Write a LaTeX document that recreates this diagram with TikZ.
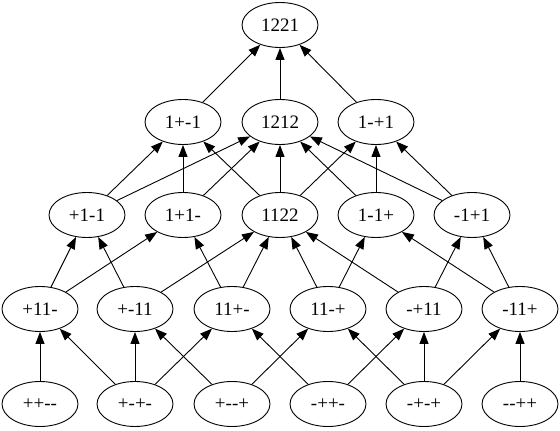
\documentclass[tikz,border=0pt]{standalone}
\usepackage{fontspec}
\newfontfamily\labfont{Liberation Serif}
\usetikzlibrary{shapes.geometric,arrows.meta}
\begin{document}
\begin{tikzpicture}[x=1pt,y=-1pt,
  vtx/.style={draw,ellipse,line width=0.9pt,minimum width=76pt,minimum height=45pt,inner sep=0pt,font=\labfont\fontsize{19}{22}\selectfont},
  edge/.style={line width=0.9pt,-{Triangle[length=12pt,width=9pt]}}]
\useasboundingbox (0,0) rectangle (560,431);
% row 1
\node[vtx] (a) at (280,25) {1221};
% row 2
\node[vtx] (b1) at (183,122) {1+-1};
\node[vtx] (b2) at (280,122) {1212};
\node[vtx] (b3) at (376,122) {1-+1};
% row 3
\node[vtx] (c1) at (87,215) {+1-1};
\node[vtx] (c2) at (183,215) {1+1-};
\node[vtx] (c3) at (280,215) {1122};
\node[vtx] (c4) at (376,215) {1-1+};
\node[vtx] (c5) at (472,215) {-1+1};
% row 4
\node[vtx] (d1) at (40,309) {+11-};
\node[vtx] (d2) at (135,309) {+-11};
\node[vtx] (d3) at (232,309) {11+-};
\node[vtx] (d4) at (328,309) {11-+};
\node[vtx] (d5) at (424,309) {-+11};
\node[vtx] (d6) at (520,309) {-11+};
% row 5
\node[vtx] (e1) at (40,404) {++--};
\node[vtx] (e2) at (135,404) {+-+-};
\node[vtx] (e3) at (232,404) {+--+};
\node[vtx] (e4) at (328,404) {-++-};
\node[vtx] (e5) at (424,404) {-+-+};
\node[vtx] (e6) at (520,404) {--++};
% row 5 -> row 4
\draw[edge] (e1) -- (d1);
\draw[edge] (e2) -- (d1);
\draw[edge] (e2) -- (d2);
\draw[edge] (e2) -- (d3);
\draw[edge] (e3) -- (d2);
\draw[edge] (e3) -- (d4);
\draw[edge] (e4) -- (d3);
\draw[edge] (e4) -- (d5);
\draw[edge] (e5) -- (d4);
\draw[edge] (e5) -- (d5);
\draw[edge] (e5) -- (d6);
\draw[edge] (e6) -- (d6);
% row 4 -> row 3
\draw[edge] (d1) -- (c1);
\draw[edge] (d1) -- (c2);
\draw[edge] (d2) -- (c1);
\draw[edge] (d2) -- (c3);
\draw[edge] (d3) -- (c2);
\draw[edge] (d3) -- (c3);
\draw[edge] (d4) -- (c3);
\draw[edge] (d4) -- (c4);
\draw[edge] (d5) -- (c3);
\draw[edge] (d5) -- (c5);
\draw[edge] (d6) -- (c4);
\draw[edge] (d6) -- (c5);
% row 3 -> row 2
\draw[edge] (c1) -- (b1);
\draw[edge] (c1) -- (b2);
\draw[edge] (c2) -- (b1);
\draw[edge] (c2) -- (b2);
\draw[edge] (c3) -- (b1);
\draw[edge] (c3) -- (b2);
\draw[edge] (c3) -- (b3);
\draw[edge] (c4) -- (b2);
\draw[edge] (c4) -- (b3);
\draw[edge] (c5) -- (b2);
\draw[edge] (c5) -- (b3);
% row 2 -> row 1
\draw[edge] (b1) -- (a);
\draw[edge] (b2) -- (a);
\draw[edge] (b3) -- (a);
\end{tikzpicture}
\end{document}
